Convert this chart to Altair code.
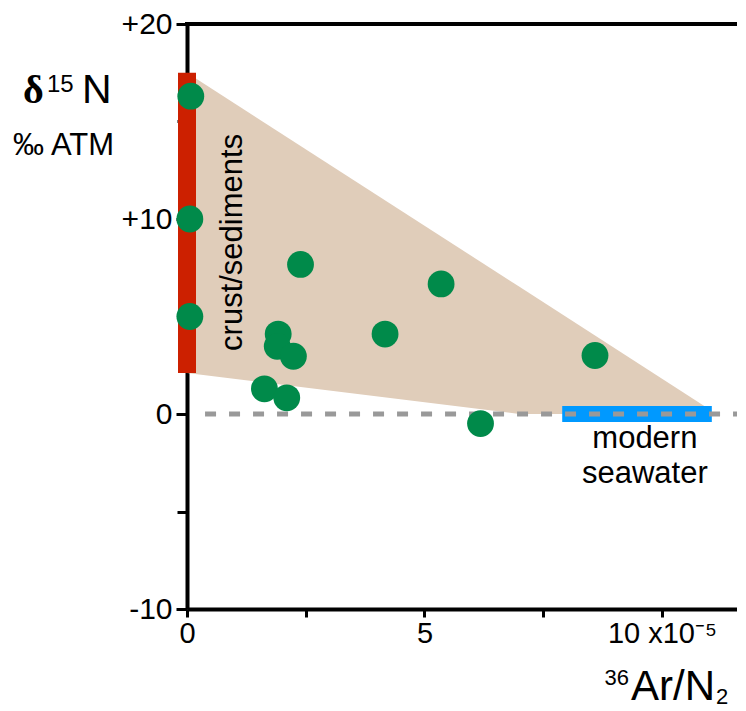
import altair as alt
import pandas as pd

# ---- data ----
ar_n2 = [0.08, 0.06, 0.06, 2.39, 1.92, 1.90, 2.24, 1.63, 2.10, 4.17, 5.35, 6.18, 8.59]
d15n = [16.3, 10.0, 5.0, 7.67, 4.1, 3.47, 2.96, 1.29, 0.83, 4.1, 6.67, -0.49, 3.0]

# field polygon (upper and lower edges)
poly_x = [0.0, 7.0, 10.9]
poly_top = [17.5, 6.52, 0.4]
poly_bot = [2.1, 0.0, 0.0]

crust_x = [0.0]
crust_y1 = [17.5]
crust_y2 = [2.1]

sea_x1 = [7.9]
sea_x2 = [11.05]
sea_y = [0.0]

dash_x1 = [0.38]
dash_x2 = [11.6]

x_ticks = [0, 2.5, 5, 7.5, 10]
y_ticks = [-10, -5, 0, 5, 10, 15, 20]

FONT = "Liberation Sans"
X_DOM = [0, 11.58]
Y_DOM = [-10, 20]
W, H = 550, 585

xs = alt.Scale(domain=X_DOM, nice=False, zero=False)
ys = alt.Scale(domain=Y_DOM, nice=False, zero=False)

pts = pd.DataFrame({"x": ar_n2, "y": d15n})
poly = pd.DataFrame({"x": poly_x, "top": poly_top, "bot": poly_bot})
crust = pd.DataFrame({"x": crust_x, "y1": crust_y1, "y2": crust_y2})
sea = pd.DataFrame({"x1": sea_x1, "x2": sea_x2, "y": sea_y})
dash = pd.DataFrame({"x1": dash_x1, "x2": dash_x2, "y": [0.0]})

x_axis = alt.Axis(
    values=x_ticks,
    labelExpr="datum.value == 0 ? '0' : datum.value == 5 ? '5' : datum.value == 10 ? '10 x10⁻⁵' : ''",
    title=None, grid=False, domain=True, domainColor="black", domainWidth=4,
    ticks=True, tickColor="black", tickWidth=3, tickSize=8,
    labelFont=FONT, labelFontSize=29, labelColor="black", labelPadding=2,
    labelFlush=False, labelOverlap=False,
)
y_axis = alt.Axis(
    values=y_ticks,
    labelExpr="datum.value % 10 === 0 ? (datum.value > 0 ? '+' + datum.value : '' + datum.value) : ''",
    title=None, grid=False, domain=True, domainColor="black", domainWidth=4,
    ticks=True, tickColor="black", tickWidth=3,
    tickSize={"condition": {"test": "datum.value % 10 === 0", "value": 11}, "value": 10},
    labelFont=FONT, labelFontSize=30, labelColor="black", labelPadding=4,
    labelFlush=False, labelOverlap=False,
)

area = alt.Chart(poly).mark_area(color="#e0cdba", opacity=1).encode(
    x=alt.X("x:Q", scale=xs, axis=x_axis),
    y=alt.Y("top:Q", scale=ys, axis=y_axis),
    y2="bot:Q",
)

# top frame line
top_line = alt.Chart(pd.DataFrame({"k": [0]})).mark_rule(color="black", strokeWidth=4).encode(
    x=alt.value(-2), x2=alt.value(W), y=alt.value(0)
)

red = alt.Chart(crust).mark_rule(color="#cc2000", strokeWidth=18, strokeCap="butt").encode(
    x=alt.X("x:Q", scale=xs), y=alt.Y("y1:Q", scale=ys), y2="y2:Q"
)

blue = alt.Chart(sea).mark_rule(color="#0099ff", strokeWidth=16, strokeCap="butt").encode(
    x=alt.X("x1:Q", scale=xs), x2="x2:Q", y=alt.Y("y:Q", scale=ys)
)

dashed = alt.Chart(dash).mark_rule(color="#999999", strokeWidth=5, strokeDash=[11, 13], strokeCap="butt").encode(
    x=alt.X("x1:Q", scale=xs), x2="x2:Q", y=alt.Y("y:Q", scale=ys)
)

points = alt.Chart(pts).mark_circle(color="#008a4a", opacity=1, size=720).encode(
    x=alt.X("x:Q", scale=xs), y=alt.Y("y:Q", scale=ys)
)

# annotations in data coordinates
ann = pd.DataFrame({
    "x": [0.97, 9.64, 9.64],
    "y": [8.8, -1.73, -3.52],
    "t": ["crust/sediments", "modern", "seawater"],
})
crust_txt = alt.Chart(ann.iloc[[0]]).mark_text(
    font=FONT, fontSize=31, angle=270, align="center", baseline="middle", color="black"
).encode(x=alt.X("x:Q", scale=xs), y=alt.Y("y:Q", scale=ys), text="t:N")
sea_txt = alt.Chart(ann.iloc[[1, 2]]).mark_text(
    font=FONT, fontSize=31, align="center", baseline="alphabetic", color="black"
).encode(x=alt.X("x:Q", scale=xs), y=alt.Y("y:Q", scale=ys), text="t:N")

# axis titles (pixel annotations outside the plot)
def label(txt, px, py, size, font=FONT, weight="normal", align="left"):
    return alt.Chart(pd.DataFrame({"t": [txt]})).mark_text(
        font=font, fontSize=size, fontWeight=weight, align=align, baseline="alphabetic", color="black"
    ).encode(x=alt.value(px), y=alt.value(py), text="t:N")

titles = [
    label("δ", -164, 79, 40, font="Liberation Serif", weight="bold"),
    label("15", -140, 68, 24),
    label("N", -105, 79, 41),
    label("‰ ATM", -174, 131, 31),
    label("36", 442, 661, 22, align="right"),
    label("Ar/N", 486, 676, 42, align="center"),
    label("2", 529, 680, 22),
]

chart = alt.layer(area, top_line, red, blue, dashed, points, crust_txt, sea_txt, *titles).properties(
    width=W, height=H,
    autosize=alt.AutoSizeParams(type="none"),
    padding={"left": 179, "top": 16, "right": 0, "bottom": 101},
).configure_view(stroke=None).configure(background="white")

chart.save("out.html", embed_options={"renderer": "svg", "actions": False})
